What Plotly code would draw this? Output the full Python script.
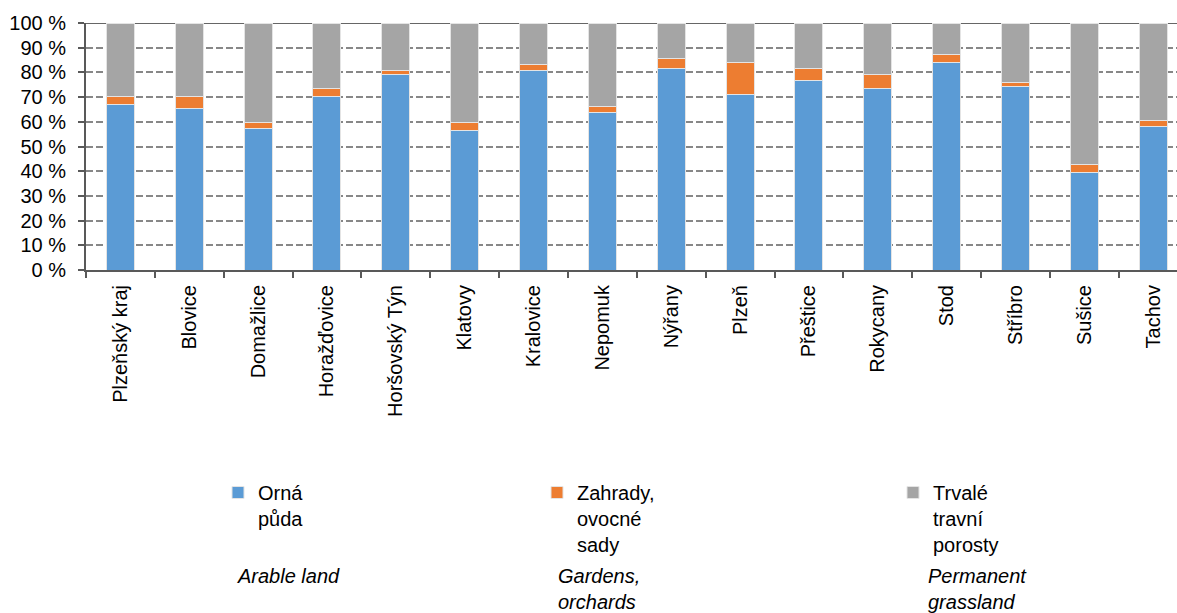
import plotly.graph_objects as go

categories = ["Plzeňský kraj", "Blovice", "Domažlice", "Horažďovice", "Horšovský Týn",
              "Klatovy", "Kralovice", "Nepomuk", "Nýřany", "Plzeň", "Přeštice",
              "Rokycany", "Stod", "Stříbro", "Sušice", "Tachov"]

orna_puda = [67.1, 65.5, 57.4, 70.2, 79.1, 56.4, 80.7, 63.7, 81.5, 71.0, 76.6, 73.4, 83.9, 74.2, 39.5, 58.0]
zahrady = [3.1, 4.7, 2.2, 3.2, 1.6, 3.2, 2.4, 2.4, 4.0, 13.1, 4.9, 5.7, 3.4, 1.6, 3.3, 2.4]
trvale_porosty = [29.8, 29.8, 40.4, 26.6, 19.3, 40.4, 16.9, 33.9, 14.5, 15.9, 18.5, 20.9, 12.7, 24.2, 57.2, 39.6]

series_names = ["Orná<br>půda", "Zahrady,<br>ovocné<br>sady", "Trvalé<br>travní<br>porosty"]
english_names = ["Arable land", "Gardens,<br>orchards", "Permanent<br>grassland"]
colors = ["#5B9BD5", "#ED7D31", "#A5A5A5"]

FONT = "Liberation Sans, Arial, sans-serif"

fig = go.Figure()
for vals, name, col, lg in zip([orna_puda, zahrady, trvale_porosty], series_names, colors,
                               ["legend", "legend2", "legend3"]):
    fig.add_trace(go.Bar(x=categories, y=vals, name=name, legend=lg, showlegend=True,
                         marker=dict(color=col, line=dict(color="#e4e4e4", width=1))))

W, H = 1177, 613
L, R, T, B = 86, 0, 23, 343
pw, ph = W - L - R, H - T - B

def px_x(p):
    return (p - L) / pw

def px_y(p):
    return (H - B - p) / ph

leg_common = dict(orientation="v", xanchor="left", yanchor="top", valign="top",
                  font=dict(family=FONT, size=20, color="#000000"),
                  bgcolor="rgba(0,0,0,0)", borderwidth=0)

fig.update_layout(
    width=W, height=H,
    margin=dict(l=L, r=R, t=T, b=B, pad=0, autoexpand=False),
    plot_bgcolor="white", paper_bgcolor="white",
    barmode="stack", bargap=0.593, showlegend=True,
    font=dict(family=FONT, size=20, color="#000000"),
    legend=dict(x=px_x(218), y=px_y(473), **leg_common),
    legend2=dict(x=px_x(537), y=px_y(473), **leg_common),
    legend3=dict(x=px_x(893), y=px_y(473), **leg_common),
    xaxis=dict(range=[-0.5, 15.346], tickangle=-90, showline=True, linecolor="#595959",
               linewidth=2, ticks="outside", tickson="boundaries", ticklen=6,
               tickcolor="#595959", tickwidth=2, showgrid=False, automargin=False,
               ticklabelstandoff=5,
               tickfont=dict(family=FONT, size=20, color="#000000")),
    yaxis=dict(range=[0, 100], dtick=10, ticksuffix=" %", showline=True,
               linecolor="#595959", linewidth=2, ticks="outside", ticklen=6,
               tickcolor="#595959", tickwidth=2, showgrid=True, gridcolor="#878787",
               griddash="7px,3px", gridwidth=1.5, zeroline=False, automargin=False,
               ticklabelstandoff=8,
               tickfont=dict(family=FONT, size=20, color="#000000")),
)

fig.add_shape(type="line", xref="paper", yref="y", x0=0, x1=1, y0=100, y1=100,
              line=dict(color="#666666", width=2), layer="below")

for name, xp in zip(english_names, [235, 556, 926]):
    fig.add_annotation(text="<i>" + name + "</i>", xref="paper", yref="paper",
                       x=px_x(xp), y=px_y(563), xanchor="left", yanchor="top",
                       align="left", showarrow=False,
                       font=dict(family=FONT, size=20, color="#000000"))

fig.write_html("out.html", config={"displayModeBar": False},
               post_script="document.body.style.margin='0';")
